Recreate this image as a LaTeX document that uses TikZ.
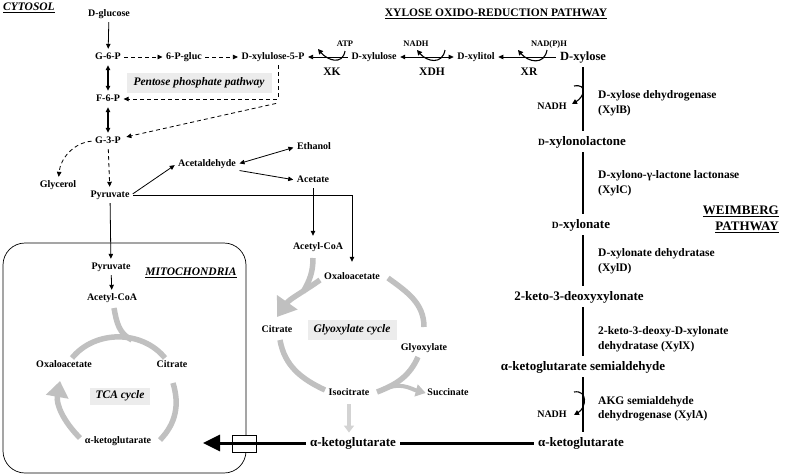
\documentclass[tikz,border=0pt]{standalone}
\usepackage{fontspec}
\setmainfont{Liberation Serif}
\usetikzlibrary{arrows.meta}
\definecolor{cycgray}{RGB}{192,192,192}
\definecolor{boxgray}{RGB}{236,236,236}
\newcommand{\scD}{{\fontsize{9.5}{10}\selectfont D}}
\tikzset{
  met/.style={font=\fontsize{10}{12}\selectfont\bfseries, inner sep=1.5pt, text height=7pt, text depth=2pt},
  bigmet/.style={font=\fontsize{13}{15}\selectfont\bfseries, inner sep=2pt, text height=9pt, text depth=3pt},
  akg/.style={font=\fontsize{13}{16}\selectfont\bfseries, inner sep=4pt, text height=9.5pt, text depth=3pt},
  cof/.style={font=\fontsize{8.5}{10}\selectfont\bfseries, inner sep=1pt},
  enzab/.style={font=\fontsize{11.5}{13}\selectfont\bfseries, inner sep=1pt},
  enz/.style={font=\fontsize{11.5}{14.5}\selectfont\bfseries, align=left, anchor=west, inner sep=0pt},
  ttl/.style={font=\fontsize{11.5}{14}\selectfont\bfseries, inner sep=0pt},
  ttlit/.style={font=\fontsize{11.5}{14}\selectfont\bfseries\itshape, inner sep=0pt},
  cyclebox/.style={fill=boxgray, font=\fontsize{11.5}{13}\selectfont\bfseries\itshape, inner sep=0pt},
  arr/.style={-{Triangle[length=5pt,width=4.5pt]}, line width=0.8pt, shorten >=2pt, shorten <=2pt},
  dbl/.style={{Triangle[length=5pt,width=4.5pt]}-{Triangle[length=5pt,width=4.5pt]}, line width=1.3pt, shorten >=2pt, shorten <=2pt},
  dsh/.style={arr, dash pattern=on 4pt off 3pt},
  cofarr/.style={-{Triangle[length=5pt,width=5pt]}, line width=1.1pt},
  cyc/.style={draw=cycgray, line width=5.5pt},
  weim/.style={line width=2.6pt, shorten <=2pt, shorten >=3pt}
}
\begin{document}
\begin{tikzpicture}[x=1pt,y=1pt]
\useasboundingbox (0,0) rectangle (785,-475);
\draw[line width=0.7pt, rounded corners=22pt] (3,-243) rectangle (246,-473);
\node[ttlit, anchor=west] (cytosol) at (3,-8) {\underline{CYTOSOL}};
\node[ttl] (oxred) at (496,-14) {\underline{XYLOSE OXIDO-REDUCTION PATHWAY}};
\node[ttl, font=\fontsize{13}{16}\selectfont\bfseries, align=right, anchor=east] (weimb) at (779,-219) {\underline{WEIMBERG}\\\underline{PATHWAY}};
\node[ttlit] (mito) at (191,-273) {\underline{MITOCHONDRIA}};
\node[met] (glc) at (109,-14) {D-glucose};
\node[met] (g6p) at (108,-57) {G-6-P};
\node[met] (pgluc) at (184,-57) {6-P-gluc};
\node[met] (xu5p) at (273,-57) {D-xylulose-5-P};
\node[met] (xu) at (374,-57) {D-xylulose};
\node[met] (xol) at (476,-57) {D-xylitol};
\node[bigmet, font=\fontsize{12.5}{15}\selectfont\bfseries] (xyl) at (583,-57) {D-xylose};
\node[cof] (atp) at (345,-44) {ATP};
\node[cof] (nadh1) at (416,-44) {NADH};
\node[cof] (nadph) at (549,-44) {NAD(P)H};
\node[enzab] (xk) at (332,-72) {XK};
\node[enzab] (xdh) at (432,-72) {XDH};
\node[enzab] (xr) at (529,-72) {XR};
\node[cyclebox, minimum width=145pt, minimum height=20pt] (ppp) at (199,-83) {Pentose phosphate pathway};
\node[met] (f6p) at (108,-99) {F-6-P};
\node[met] (g3p) at (108,-141) {G-3-P};
\node[met] (glyc) at (58,-185) {Glycerol};
\node[met] (pyr) at (110,-195) {Pyruvate};
\node[met] (acald) at (207,-164) {Acetaldehyde};
\node[met] (etoh) at (314,-147) {Ethanol};
\node[met] (acet) at (313,-180) {Acetate};
\node[met] (accoa) at (318,-247) {Acetyl-CoA};
\node[met] (oaa) at (352,-277) {Oxaloacetate};
\node[met] (cit) at (277,-330) {Citrate};
\node[cyclebox, minimum width=89pt, minimum height=20pt] (glxbox) at (352,-330) {Glyoxylate cycle};
\node[met] (glx) at (424,-348) {Glyoxylate};
\node[met] (icit) at (349,-393) {Isocitrate};
\node[met] (succ) at (448,-393) {Succinate};
\node[akg] (akgc) at (353,-443) {α-ketoglutarate};
\node[met] (mpyr) at (111,-267) {Pyruvate};
\node[met] (maccoa) at (112,-298) {Acetyl-CoA};
\node[met] (moaa) at (64,-365) {Oxaloacetate};
\node[met] (mcit) at (172,-365) {Citrate};
\node[cyclebox, minimum width=60pt, minimum height=17pt] (tcabox) at (120,-396) {TCA cycle};
\node[met] (makg) at (118,-441) {α-ketoglutarate};
\node[draw, fill=white, minimum width=24pt, minimum height=17pt, inner sep=0pt, line width=0.6pt] (carrier) at (244,-444) {};
\coordinate (mitoin) at (203,-443);
\node[bigmet] (lac) at (582,-142) {\scD-xylonolactone};
\node[bigmet] (xyn) at (581,-225) {\scD-xylonate};
\node[bigmet] (kdx) at (579,-297) {2-keto-3-deoxyxylonate};
\node[bigmet] (ksa) at (583,-367) {α-ketoglutarate semialdehyde};
\node[akg] (akgw) at (581,-443) {α-ketoglutarate};
\node[met] (nadhb) at (552,-107) {NADH};
\node[met] (nadha) at (552,-415) {NADH};
\node[enz] (xylb) at (598,-103) {D-xylose dehydrogenase\\(XylB)};
\node[enz] (xylc) at (598,-183) {D-xylono-γ-lactone lactonase\\(XylC)};
\node[enz] (xyld) at (598,-261) {D-xylonate dehydratase\\(XylD)};
\node[enz] (xylx) at (598,-339) {2-keto-3-deoxy-D-xylonate\\dehydratase (XylX)};
\node[enz] (xyla) at (598,-409) {AKG semialdehyde\\dehydrogenase (XylA)};
\draw[arr] (glc) -- (g6p);
\draw[dbl] (g6p) -- (f6p);
\draw[dbl] (f6p) -- (g3p);
\draw[dsh] (g6p) -- (pgluc);
\draw[dsh] (pgluc) -- (xu5p);
\coordinate (pptop) at ([xshift=5pt]xu5p.south);
\draw[dsh] (pptop) |- (f6p);
\draw[dsh, shorten >=4pt] ([yshift=-4pt]pptop |- f6p) -- (g3p);
\draw[dsh] (g3p) -- (pyr);
\draw[dsh] (g3p.west) to[out=185,in=85] (glyc);
\draw[arr] (pyr.east) -- (acald.west);
\draw[dbl, line width=0.8pt] (acald.east) -- (etoh.west);
\draw[arr] (acald.south east) -- (acet.west);
\draw[arr, shorten >=9pt] (pyr.east) -| (oaa);
\draw[arr, shorten >=5pt] (acet) -- (acet |- accoa.north);
\draw[arr] (pyr) -- (mpyr);
\draw[arr] (mpyr) -- (maccoa);
\draw[arr] (xu) -- (xu5p);
\draw[dbl, line width=0.8pt] (xu) -- (xol);
\draw[arr] (xyl) -- (xol);
\draw[cofarr] ([shift={(0,-7)}]atp.center) to[out=-100,in=-50,looseness=1.4] ([shift={(-27,-5)}]atp.center);
\draw[cofarr] ([shift={(29,-6)}]nadh1.center) to[out=-100,in=-50,looseness=1.4] ([shift={(1,-6)}]nadh1.center);
\draw[cofarr] ([shift={(-2,-6)}]nadph.center) to[out=-100,in=-50,looseness=1.4] ([shift={(-31,-6)}]nadph.center);
\draw[weim] (xyl) -- (xyl |- lac.north);
\draw[weim] (xyl |- lac.south) -- (xyl |- xyn.north);
\draw[weim] (xyl |- xyn.south) -- (xyl |- kdx.north);
\draw[weim] (xyl |- kdx.south) -- (xyl |- ksa.north);
\draw[weim, shorten >=1pt] (xyl |- ksa.south) -- (xyl |- akgw.north);
\draw[cofarr] ([shift={(22,21)}]nadhb.center) to[out=10,in=30,looseness=2] ([shift={(20,3)}]nadhb.center);
\draw[cofarr] ([shift={(22,23)}]nadha.center) to[out=10,in=30,looseness=1.6] ([shift={(22,0)}]nadha.center);
\draw[cyc] ([shift={(8,7)}]moaa.center) to[out=51,in=129] ([shift={(-7,7)}]mcit.center);
\draw[cyc] ([shift={(2,-10)}]maccoa.center) to[out=-80,in=155] ([shift={(20,-42)}]maccoa.center);
\draw[cyc] ([shift={(1,-18)}]mcit.center) to[out=-73,in=46] ([shift={(42,1)}]makg.center);
\draw[cyc, -{Triangle[length=16pt,width=22pt]}] ([shift={(-38,3)}]makg.center) to[out=135,in=-100] ([shift={(-4,-16)}]moaa.center);
\draw[cyc, -{Triangle[length=18pt,width=24pt]}] ([shift={(-32,-3)}]oaa.center) to[out=215,in=55] ([shift={(0,13)}]cit.center);
\draw[cyc] ([shift={(-5,-11)}]accoa.center) to[out=-90,in=60] ([shift={(-49,-15)}]oaa.center);
\draw[cyc] ([shift={(3,-10)}]cit.center) to[out=-80,in=155] ([shift={(-24,3)}]icit.center);
\draw[cyc] ([shift={(36,-1)}]oaa.center) to[out=-36,in=90] ([shift={(0,21)}]glx.center);
\draw[cyc] ([shift={(-6,-9)}]glx.center) to[out=-114,in=21] ([shift={(28,1)}]icit.center);
\draw[cyc, line width=4pt, -{Triangle[length=10pt,width=12pt]}] ([shift={(41,6)}]icit.center) to[out=15,in=165] (succ.west);
\draw[cyc, draw=cycgray!70, line width=4.5pt, shorten <=5pt, -{Triangle[length=7pt,width=10pt]}] (icit) -- (icit |- akgc.north);
\draw[line width=3pt, -{Triangle[length=17pt,width=16pt]}] (akgc) -- (mitoin);
\draw[line width=3pt] (akgc) -- (akgw);
\end{tikzpicture}
\end{document}
